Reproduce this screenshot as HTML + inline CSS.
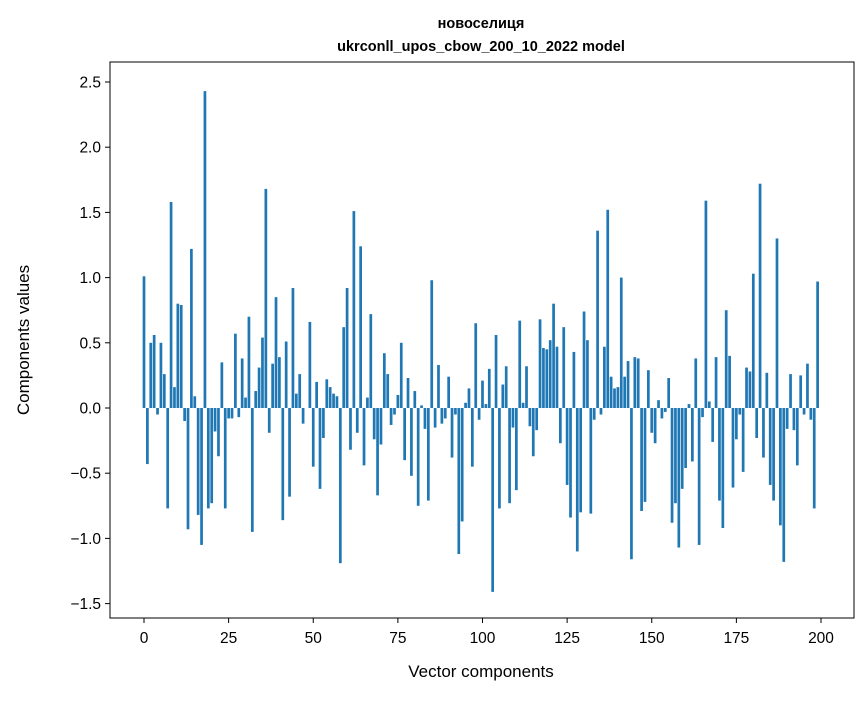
<!DOCTYPE html>
<html><head><meta charset="utf-8"><style>
body{margin:0;background:#fff;}
svg text{font-family:"Liberation Sans","DejaVu Sans",sans-serif;fill:#000;}
</style></head><body>
<svg id="chart" width="867" height="696" viewBox="0 0 867 696">
<rect width="867" height="696" fill="#fff"/>
<text x="481" y="28" text-anchor="middle" font-size="14.5" font-weight="bold">новоселиця</text>
<text x="481" y="51" text-anchor="middle" font-size="14.5" font-weight="bold">ukrconll_upos_cbow_200_10_2022 model</text>
<g id="bars"></g>
<g id="xticks"></g>
<g id="yticks"></g>
<rect x="110" y="62" width="744" height="556" fill="none" stroke="#000" stroke-width="1"/>
<text x="481" y="677" text-anchor="middle" font-size="17">Vector components</text>
<text transform="translate(29,340) rotate(-90)" text-anchor="middle" font-size="17">Components values</text>
</svg>
<script>
const values=[1.01,-0.43,0.50,0.56,-0.05,0.50,0.26,-0.77,1.58,0.16,0.80,0.79,-0.10,-0.93,1.22,0.09,-0.82,-1.05,2.43,-0.77,
-0.73,-0.18,-0.37,0.35,-0.77,-0.08,-0.08,0.57,-0.07,0.38,0.08,0.70,-0.95,0.13,0.31,0.54,1.68,-0.19,0.34,0.85,
0.39,-0.86,0.51,-0.68,0.92,0.11,0.26,-0.12,0.0,0.66,-0.45,0.20,-0.62,-0.23,0.22,0.16,0.11,0.09,-1.19,0.62,
0.92,-0.32,1.51,-0.19,1.24,-0.44,0.08,0.72,-0.24,-0.67,-0.28,0.42,0.26,-0.13,-0.05,0.10,0.50,-0.40,0.23,-0.52,
0.13,-0.75,0.02,-0.16,-0.71,0.98,-0.15,0.33,-0.12,-0.08,0.24,-0.38,-0.05,-1.12,-0.87,0.04,0.15,-0.45,0.65,-0.09,
0.21,0.03,0.30,-1.41,0.56,-0.77,0.18,0.32,-0.73,-0.15,-0.63,0.67,0.04,0.32,-0.14,-0.37,-0.17,0.68,0.46,0.45,
0.52,0.80,0.47,-0.27,0.62,-0.59,-0.84,0.43,-1.10,-0.80,0.74,0.52,-0.81,-0.09,1.36,-0.05,0.47,1.52,0.24,0.15,
0.16,1.00,0.24,0.36,-1.16,0.39,0.38,-0.79,-0.72,0.29,-0.19,-0.27,0.06,-0.08,-0.03,0.23,-0.88,-0.73,-1.07,-0.62,
-0.46,0.03,-0.41,0.38,-1.05,-0.07,1.59,0.05,-0.26,0.39,-0.71,-0.92,0.75,0.40,-0.61,-0.24,-0.05,-0.49,0.31,0.28,
1.03,-0.23,1.72,-0.38,0.27,-0.59,-0.71,1.30,-0.90,-1.18,-0.16,0.26,-0.17,-0.44,0.25,-0.05,0.34,-0.09,-0.77,0.97];
const xTicks=[0,25,50,75,100,125,150,175,200];
const yTicks=[-1.5,-1.0,-0.5,0.0,0.5,1.0,1.5,2.0,2.5];
const NS="http://www.w3.org/2000/svg";
function xs(v){return 144+(v)*(821-144)/200;}
function ys(v){return 408-v*130.4;}
const bw=0.8*(821-144)/200;
const gb=document.getElementById('bars');
values.forEach((v,i)=>{
  const r=document.createElementNS(NS,'rect');
  
  
  const y0=ys(0),y1=ys(v);
  r.setAttribute('x',xs(i)-bw/2);
  r.setAttribute('y',Math.min(y0,y1));
  r.setAttribute('width',bw);
  r.setAttribute('height',Math.abs(y1-y0));
  r.setAttribute('fill','#1f77b4');
  gb.appendChild(r);
});
const gx=document.getElementById('xticks');
xTicks.forEach(t=>{
  const l=document.createElementNS(NS,'line');
  
  
  l.setAttribute('x1',xs(t));l.setAttribute('x2',xs(t));
  l.setAttribute('y1',618);l.setAttribute('y2',623);
  l.setAttribute('stroke','#000');
  gx.appendChild(l);
  const tx=document.createElementNS(NS,'text');
  
  
  tx.setAttribute('x',xs(t));tx.setAttribute('y',643);
  tx.setAttribute('text-anchor','middle');tx.setAttribute('font-size','15.5');
  tx.textContent=t;
  gx.appendChild(tx);
});
const gy=document.getElementById('yticks');
yTicks.forEach(t=>{
  const l=document.createElementNS(NS,'line');
  
  
  l.setAttribute('x1',105);l.setAttribute('x2',110);
  l.setAttribute('y1',ys(t));l.setAttribute('y2',ys(t));
  l.setAttribute('stroke','#000');
  gy.appendChild(l);
  const tx=document.createElementNS(NS,'text');
  
  
  tx.setAttribute('x',101);tx.setAttribute('y',ys(t)+5.5);
  tx.setAttribute('text-anchor','end');tx.setAttribute('font-size','15.5');
  tx.textContent=(t<0?'\u2212':'')+Math.abs(t).toFixed(1);
  gy.appendChild(tx);
});
</script>
</body></html>
